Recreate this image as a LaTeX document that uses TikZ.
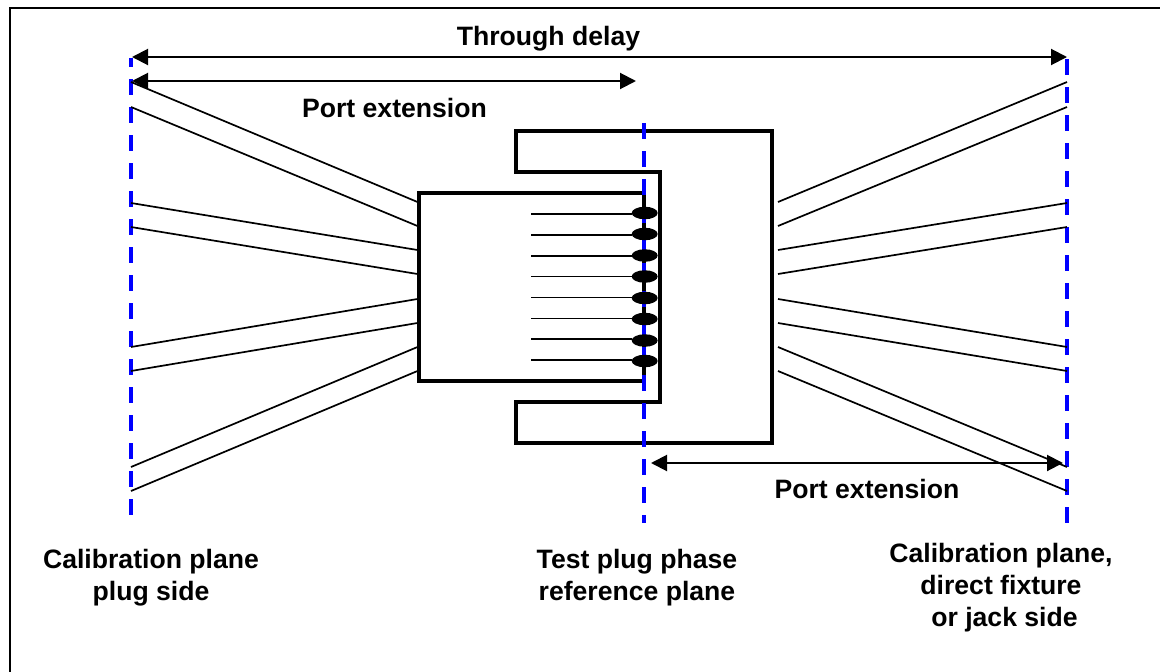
\documentclass[tikz,border=0pt]{standalone}
\usepackage{fontspec}
\setmainfont{Liberation Sans}
\usetikzlibrary{arrows.meta,shapes.geometric}
\tikzset{
  x=1pt,y=-1pt,
  frame/.style={draw=black,line width=2pt},
  body/.style={draw=black,line width=3.5pt,line join=miter},
  wire/.style={draw=black,line width=1.7pt},
  pin/.style={draw=black,line width=1.7pt},
  contact/.style={ellipse,fill=black,draw=none,minimum width=26pt,minimum height=12.5pt,inner sep=0pt},
  plane/.style={draw=blue,line width=4pt,dash pattern=on 16pt off 12pt},
  dim/.style={draw=black,line width=2pt,{Triangle[length=16pt,width=16pt]}-{Triangle[length=16pt,width=16pt]}},
  lbl/.style={font=\fontsize{26.6}{32}\selectfont\bfseries,align=center,inner sep=0pt,text=black},
}
\begin{document}
\begin{tikzpicture}
\useasboundingbox (0,0) rectangle (1160,672);
\fill[white] (0,0) rectangle (1160,672);
\draw[frame] (9.5,672) -- (9.5,8) -- (1160,8);
% coordinates
\coordinate (pL1) at (131.3,58); \coordinate (pL2) at (131.3,515);
\coordinate (pC1) at (643.7,123); \coordinate (pC2) at (643.7,523);
\coordinate (pR1) at (1067,59); \coordinate (pR2) at (1067,523);
% shell
\draw[body] (516,131) -- (772,131) -- (772,443) -- (516,443) -- (516,402) -- (660,402) -- (660,172) -- (516,172) -- cycle;
% plug
\draw[body] (644,193) -- (419,193) -- (419,381) -- (644,381) -- cycle;
% planes
\draw[plane,dash phase=7pt] (pL1) -- (pL2);
\draw[plane] (pC1) -- (pC2);
\draw[plane] (pR1) -- (pR2);
% wires
\foreach \i/\a/\b in {1/82/202,2/107/226,3/203/250,4/227/274,5/347/299,6/371/323,7/467/347,8/491/371}{
  \coordinate (la\i) at (131,\a); \coordinate (lb\i) at (417.5,\b);
  \coordinate (ra\i) at (1067,\a); \coordinate (rb\i) at (778,\b);
  \draw[wire] (la\i) -- (lb\i);
  \draw[wire] (ra\i) -- (rb\i);
}
% pins
\foreach \i/\y/\c in {1/214/213,2/235/234,3/256/255.5,4/276.5/276.5,5/297.5/298,6/318.5/319,7/339/340.5,8/360/361}{
  \coordinate (ps\i) at (531,\y);
  \node[contact] (c\i) at (644.7,\c) {};
  \draw[pin] (ps\i) -- (ps\i -| c\i.west);
}
% dimensions
\coordinate (d1a) at (132,57); \coordinate (d1b) at (1067,57);
\coordinate (d2a) at (132,81); \coordinate (d2b) at (636,81);
\coordinate (d3a) at (651,463); \coordinate (d3b) at (1063,463);
\draw[dim] (d1a) -- (d1b);
\draw[dim] (d2a) -- (d2b);
\draw[dim] (d3a) -- (d3b);
% labels
\node[lbl] (t1) at (548.5,38.8) {Through delay};
\node[lbl] (t2) at (394.5,107.6) {Port extension};
\node[lbl] (t3) at (867,488.6) {Port extension};
\node[lbl,anchor=north] (t4) at (151,549) {Calibration plane\\plug side};
\node[lbl,anchor=north] (t5) at (637,549) {Test plug phase\\reference plane};
\node[lbl,anchor=north] (t6) at (1001,542.6) {Calibration plane,\\direct fixture\\\hspace{7pt}or jack side};
\end{tikzpicture}
\end{document}
